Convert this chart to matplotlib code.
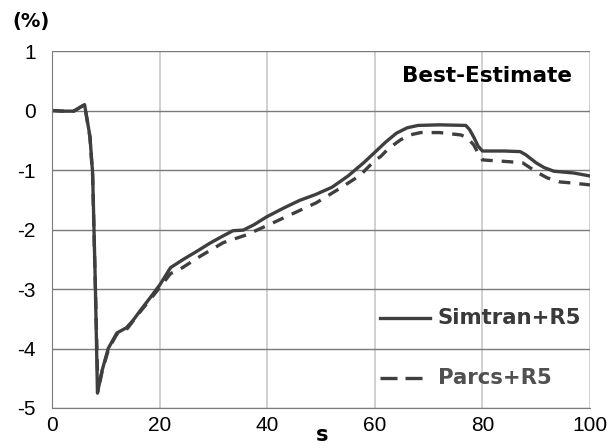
import matplotlib.pyplot as plt
from matplotlib.lines import Line2D

plt.rcParams['font.family'] = ['Liberation Sans', 'DejaVu Sans']
plt.rcParams['axes.unicode_minus'] = False

# Simtran+R5 (solid)
sim_x = [0, 2, 4, 6, 7, 7.5, 8, 8.4, 9.2, 10.4, 12, 13.8, 15, 16.3, 18, 20, 22, 24.4,
         27, 29.3, 31.5, 33.6, 35.5, 37.5, 39.8, 43, 46, 49, 52, 55, 56.3, 58, 60, 62,
         64, 66, 68, 72, 76.9, 77.6, 78.4, 79.2, 80, 84, 87, 88, 90, 91.5, 93.3, 97, 100]
sim_y = [0, -0.01, -0.01, 0.1, -0.43, -1.05, -2.9, -4.75, -4.39, -4.0, -3.74, -3.65,
         -3.53, -3.37, -3.17, -2.93, -2.64, -2.5, -2.36, -2.23, -2.12, -2.02, -2.01,
         -1.92, -1.79, -1.64, -1.51, -1.41, -1.29, -1.1, -1.0, -0.87, -0.7, -0.53,
         -0.38, -0.29, -0.25, -0.24, -0.25, -0.32, -0.45, -0.6, -0.68, -0.68, -0.69,
         -0.74, -0.88, -0.96, -1.02, -1.05, -1.1]

# Parcs+R5 (dashed)
par_x = [0, 2, 4, 6, 7, 7.5, 8, 8.5, 9.3, 10.5, 12, 14, 16, 18, 20, 22, 23.7, 27.5,
         31.8, 36.1, 40.5, 44.8, 49.1, 52.9, 55, 57.4, 58.2, 60, 61.1, 62.5, 64.8, 66.5,
         68.5, 72, 74, 76, 77.2, 78.4, 79.2, 80, 85, 87.5, 90, 92, 94.4, 97, 100]
par_y = [0, -0.01, -0.01, 0.1, -0.45, -1.1, -2.95, -4.72, -4.37, -4.0, -3.76, -3.66,
         -3.42, -3.2, -2.97, -2.74, -2.67, -2.45, -2.22, -2.09, -1.91, -1.73, -1.55,
         -1.34, -1.22, -1.08, -1.0, -0.84, -0.77, -0.64, -0.49, -0.41, -0.37, -0.37,
         -0.39, -0.41, -0.46, -0.58, -0.72, -0.83, -0.86, -0.88, -1.03, -1.13, -1.2,
         -1.22, -1.25]

series_names = ['Simtran+R5', 'Parcs+R5']
x_ticks = [0, 20, 40, 60, 80, 100]
y_ticks = [1, 0, -1, -2, -3, -4, -5]

fig = plt.figure(figsize=(6.13, 4.48), dpi=100)
ax = fig.add_axes([0.0853, 0.0893, 0.8772, 0.7967])

line_col = '#3f3f3f'
ax.plot(sim_x, sim_y, color=line_col, lw=2.4, solid_joinstyle='round')
ax.plot(par_x, par_y, color=line_col, lw=2.4, dashes=(3.5, 2.7))

for v in x_ticks[1:]:
    ax.axvline(v, color='#c8c8c8', lw=1.2, zorder=0)
for v in y_ticks:
    ax.axhline(v, color='#7a7a7a', lw=1.0, zorder=0)

ax.set_xlim(0, 100)
ax.set_ylim(-5, 1)
ax.set_xticks(x_ticks)
ax.set_yticks(y_ticks)
ax.tick_params(length=0, labelsize=15, colors='black', pad=6)
ax.tick_params(axis='y', pad=12)
for side in ['top', 'right']:
    ax.spines[side].set_visible(False)
ax.spines['left'].set_color('#7a7a7a')
ax.spines['bottom'].set_color('#7a7a7a')

bold = dict(family='DejaVu Sans', fontweight='bold')
fig.text(0.02, 0.951, '(%)', fontsize=14, va='center', **bold)
fig.text(0.525, 0.03, 's', fontsize=15, ha='center', va='center', **bold)
fig.text(0.933, 0.831, 'Best-Estimate', fontsize=15.5, ha='right', va='center', **bold)

# legend drawn by hand to match the reference layout
fig.add_artist(Line2D([0.620, 0.701], [0.290, 0.290], color=line_col, lw=2.4))
fig.add_artist(Line2D([0.620, 0.690], [0.156, 0.156], color=line_col, lw=2.4,
                      dashes=(5.1, 2.4)))
fig.text(0.7145, 0.290, series_names[0], fontsize=15.3, va='center',
         color='#3a3a3a', **bold)
fig.text(0.7145, 0.156, series_names[1], fontsize=15.3, va='center',
         color='#505050', **bold)

fig.savefig('out.png', dpi=100)
